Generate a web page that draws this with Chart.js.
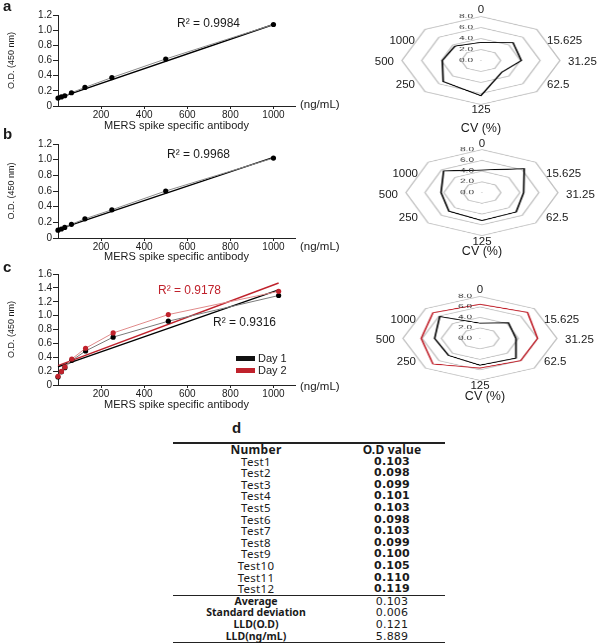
<!DOCTYPE html>
<html>
<head>
<meta charset="utf-8">
<script src="https://cdn.jsdelivr.net/npm/chart.js@4.4.1/dist/chart.umd.min.js"></script>
<style>
body { margin: 0; background: #fff; }
#fig { position: relative; width: 600px; height: 643px; overflow: hidden; font-family: "Liberation Sans", Arial, sans-serif; color: #1a1a1a; }
.abs { position: absolute; white-space: nowrap; height: 16px; line-height: 16px; width: 120px; color: #1a1a1a; }
.letter { font-weight: bold; font-size: 15px; }
.r2 { font-size: 12px; }
.unit { font-size: 11.5px; }
.cv { font-size: 12.5px; }
.plab { font-size: 11.5px; }
.leg { font-size: 11px; }
.sw { position: absolute; width: 19px; height: 5px; }
#tbl { position: absolute; left: 173px; top: 442px; width: 272px; border-collapse: collapse; font-family: "Noto Sans", sans-serif; color: #1a1a1a; }
#tbl td { padding: 0; height: 11.6px; line-height: 11.6px; text-align: center; font-size: 11.5px; letter-spacing: 0.3px; }
#tbl td.v { font-family: "DejaVu Sans", sans-serif; font-size: 11px; letter-spacing: 0.2px; }
#tbl tr.head td { font-size: 12px; }
#tbl tr.sum td.n { font-size: 10.5px; letter-spacing: 0; }
#tbl tr.top td { border-top: 2px solid #222; }
#tbl tr.mid td { border-top: 1.5px solid #222; }
#tbl tr.bot td { border-bottom: 2px solid #222; }
</style>
</head>
<body>
<div id="fig"></div>
<script>
// ---- data ----
var concAB = [0, 15.625, 31.25, 62.5, 125, 250, 500, 1000];
var odA = [0.105, 0.12, 0.135, 0.175, 0.245, 0.375, 0.62, 1.075];
var odB = [0.10, 0.115, 0.135, 0.175, 0.245, 0.36, 0.60, 1.02];
var trendX = [0, 1000];
var trendA = [0.105, 1.075];
var trendB = [0.11, 1.03];

var concC = [0, 16, 32, 64, 128, 256, 512, 1024];
var odDay1 = [0.115, 0.19, 0.25, 0.355, 0.49, 0.69, 0.92, 1.29];
var odDay2 = [0.125, 0.195, 0.26, 0.375, 0.53, 0.75, 1.015, 1.35];
var trendXC = [0, 1024];
var trendDay1 = [0.26, 1.37];
var trendDay2 = [0.28, 1.47];

var xTicks = [200, 400, 600, 800, 1000];
var ringTicks = [0, 2, 4, 6, 8];

var cvLabels = ['0', '15.625', '31.25', '62.5', '125', '250', '500', '1000'];
var cvA = [3.3, 4.6, 4.1, 3.0, 6.4, 5.4, 3.9, 3.7];
var cvB = [4.2, 6.3, 4.4, 5.1, 5.2, 4.9, 4.3, 5.7];
var cvDay1 = [2.9, 4.2, 3.75, 5.3, 5.1, 4.6, 4.7, 5.9];
var cvDay2 = [6.5, 7.0, 6.0, 6.0, 5.65, 6.9, 6.1, 6.9];

var testNames = ['Test1', 'Test2', 'Test3', 'Test4', 'Test5', 'Test6', 'Test7', 'Test8', 'Test9', 'Test10', 'Test11', 'Test12'];
var testOD = ['0.103', '0.098', '0.099', '0.101', '0.103', '0.098', '0.103', '0.099', '0.100', '0.105', '0.110', '0.119'];
var sumNames = ['Average', 'Standard deviation', 'LLD(O.D)', 'LLD(ng/mL)'];
var sumValues = ['0.103', '0.006', '0.121', '5.889'];

var RED = '#c0222c';

Chart.defaults.font.family = '"Liberation Sans", Arial, sans-serif';
Chart.defaults.color = '#1a1a1a';
Chart.defaults.animation = false;

var fig = document.getElementById('fig');

// text box of fixed width, anchored without fractional transforms
function addText(txt, x, y, cls, align) {
    var d = document.createElement('div');
    d.className = 'abs ' + (cls || '');
    d.textContent = txt;
    var left = x;
    if (align === 'right') { left = x - 120; d.style.textAlign = 'right'; }
    else if (align === 'center') { left = x - 60; d.style.textAlign = 'center'; }
    d.style.left = Math.round(left) + 'px';
    d.style.top = Math.round(y - 8) + 'px';
    fig.appendChild(d);
    return d;
}

function pts(xs, ys) {
    return xs.map(function (x, i) { return { x: x, y: ys[i] }; });
}

//-----------------
//- line charts   -
//-----------------
function makeLine(box, yMax, datasets) {
    var c = document.createElement('canvas');
    c.width = 300;
    c.height = box.h;
    c.style.position = 'absolute';
    c.style.left = '0px';
    c.style.top = box.top + 'px';
    fig.appendChild(c);

    new Chart(c.getContext('2d'), {
        type: 'scatter',
        data: { datasets: datasets },
        options: {
            responsive: false,
            events: [],
            layout: { padding: { top: box.padTop, right: 5, left: 0, bottom: 0 } },
            plugins: { legend: { display: false }, tooltip: { enabled: false } },
            scales: {
                x: {
                    type: 'linear', min: 0, max: 1100,
                    afterBuildTicks: function (s) {
                        s.ticks = xTicks.map(function (v) { return { value: v }; });
                    },
                    ticks: {
                        padding: 0, maxRotation: 0, autoSkip: false, font: { size: 10 },
                        callback: function (v) { return String(v); }
                    },
                    grid: { drawOnChartArea: false, tickLength: 3, color: '#222' },
                    border: { color: '#222', width: 1 },
                    title: { display: true, text: 'MERS spike specific antibody', font: { size: 11 }, padding: { top: 0, bottom: 2 } },
                    afterFit: function (s) { s.height = box.xh; }
                },
                y: {
                    min: 0, max: yMax,
                    ticks: {
                        stepSize: 0.2, padding: 1, autoSkip: false, font: { size: 10 },
                        callback: function (v) { return v === 0 ? '0' : v.toFixed(1); }
                    },
                    grid: { drawOnChartArea: false, tickLength: 5, color: '#222' },
                    border: { color: '#222', width: 1 },
                    title: { display: true, text: 'O.D. (450 nm)', font: { size: 9 }, padding: { top: 6, bottom: 0 } },
                    afterFit: function (s) { s.width = 58; }
                }
            }
        }
    });
}

function dotSet(xs, ys, line, dot) {
    return {
        data: pts(xs, ys), showLine: true, borderColor: line, borderWidth: 1, clip: false,
        pointRadius: 2.6, pointBackgroundColor: dot, pointBorderWidth: 0
    };
}
function trendSet(xs, ys, color) {
    return { data: pts(xs, ys), showLine: true, borderColor: color, borderWidth: 1.4, pointRadius: 0, clip: false };
}

makeLine({ top: 0, h: 135, padTop: 15, xh: 29 }, 1.2, [
    dotSet(concAB, odA, '#8c8c8c', '#000'),
    trendSet(trendX, trendA, '#000')
]);
makeLine({ top: 130, h: 136, padTop: 14, xh: 28 }, 1.2, [
    dotSet(concAB, odB, '#8c8c8c', '#000'),
    trendSet(trendX, trendB, '#000')
]);
makeLine({ top: 262, h: 152, padTop: 12, xh: 29 }, 1.6, [
    dotSet(concC, odDay2, '#e08a8a', RED),
    dotSet(concC, odDay1, '#7a7a7a', '#000'),
    trendSet(trendXC, trendDay1, '#000'),
    trendSet(trendXC, trendDay2, RED)
]);

//-----------------
//- radar charts  -
//-----------------
// ring values sit left of the vertical axis, as in Excel
var ringLabels = {
    id: 'ringLabels',
    afterDatasetsDraw: function (chart) {
        var r = chart.scales.r, ctx = chart.ctx;
        ctx.save();
        ctx.font = '10px "Liberation Sans", Arial, sans-serif';
        ctx.fillStyle = '#333';
        ctx.textAlign = 'center';
        ctx.textBaseline = 'middle';
        r.ticks.forEach(function (t) {
            ctx.fillText(t.value.toFixed(1), r.xCenter - 15, r.yCenter - r.getDistanceFromCenterForValue(t.value));
        });
        ctx.restore();
    }
};

function makeRadar(box, sets) {
    var S = 2 * box.rx + 2 + 20;
    var wrap = document.createElement('div');
    wrap.style.position = 'absolute';
    wrap.style.transformOrigin = '0 0';
    var c = document.createElement('canvas');
    c.width = S;
    c.height = S;
    wrap.appendChild(c);
    fig.appendChild(wrap);

    var chart = new Chart(c.getContext('2d'), {
        type: 'radar',
        data: {
            labels: cvLabels,
            datasets: sets.map(function (s) {
                return { data: s.data, borderColor: s.color, borderWidth: 1.7, pointRadius: 0, fill: false, backgroundColor: 'rgba(0,0,0,0)', borderJoinStyle: 'miter' };
            })
        },
        options: {
            responsive: false,
            events: [],
            layout: { padding: 10 },
            plugins: { legend: { display: false }, tooltip: { enabled: false } },
            scales: {
                r: {
                    min: -0.001, max: 8,
                    afterBuildTicks: function (s) {
                        s.ticks = ringTicks.map(function (v) { return { value: v }; });
                    },
                    ticks: { display: false },
                    angleLines: { display: false },
                    grid: { color: '#c4c4c4', lineWidth: 1.6 },
                    pointLabels: { display: false }
                }
            }
        },
        plugins: [ringLabels]
    });

    var r = chart.scales.r;
    var k = box.ry / r.drawingArea;
    var sx = box.rx / r.drawingArea;
    wrap.style.left = (box.cx - r.xCenter * sx) + 'px';
    wrap.style.top = (box.cy - r.yCenter * k) + 'px';
    wrap.style.transform = 'scale(' + sx + ',' + k + ')';

    // category labels round the web
    cvLabels.forEach(function (lab, i) {
        var a = -Math.PI / 2 + i * Math.PI / 4;
        var cs = Math.cos(a), sn = Math.sin(a);
        var x, y, al;
        if (Math.abs(cs) < 0.1) {
            x = box.cx; y = box.cy + sn * (box.ry + (sn < 0 ? 7 : 5)); al = 'center';
        } else if (Math.abs(sn) < 0.1) {
            x = box.cx + cs * (box.rx + 8); y = box.cy + 1; al = cs > 0 ? 'left' : 'right';
        } else {
            x = box.cx + cs * box.rx + (cs > 0 ? 10 : -10);
            y = box.cy + sn * box.ry * 0.72 + 2;
            al = cs > 0 ? 'left' : 'right';
        }
        addText(lab, x, y, 'plab', al);
    });
}

makeRadar({ cx: 481, cy: 60, rx: 79, ry: 44 }, [{ data: cvA, color: '#000' }]);
makeRadar({ cx: 482, cy: 193, rx: 76, ry: 43 }, [{ data: cvB, color: '#000' }]);
makeRadar({ cx: 480, cy: 338, rx: 77, ry: 42 }, [{ data: cvDay1, color: '#000' }, { data: cvDay2, color: RED }]);

//-----------------
//- labels        -
//-----------------
addText('a', 3, 6, 'letter');
addText('b', 3, 134, 'letter');
addText('c', 3, 267, 'letter');
addText('d', 232, 428, 'letter');

addText('R\u00b2 = 0.9984', 177, 23, 'r2');
addText('R\u00b2 = 0.9968', 167, 154, 'r2');
addText('R\u00b2 = 0.9178', 158, 290, 'r2').style.color = RED;
addText('R\u00b2 = 0.9316', 213, 322, 'r2');

addText('(ng/mL)', 300, 104, 'unit');
addText('(ng/mL)', 300, 246, 'unit');
addText('(ng/mL)', 300, 386, 'unit');

addText('CV (%)', 481, 128, 'cv', 'center');
addText('CV (%)', 482, 251, 'cv', 'center');
addText('CV (%)', 485, 396, 'cv', 'center');

// Day legend of panel c
[['Day 1', '#111', 358], ['Day 2', RED, 370]].forEach(function (it) {
    var sw = document.createElement('div');
    sw.className = 'sw';
    sw.style.left = '236px';
    sw.style.top = Math.round(it[2] - 2.5) + 'px';
    sw.style.background = it[1];
    fig.appendChild(sw);
    addText(it[0], 258, it[2], 'leg');
});

//-----------------
//- table d       -
//-----------------
var tbl = document.createElement('table');
tbl.id = 'tbl';
function row(a, b, cls, boldA, boldB) {
    var tr = document.createElement('tr');
    if (cls) tr.className = cls;
    var t1 = document.createElement('td');
    t1.textContent = a;
    t1.className = 'n';
    t1.style.fontWeight = boldA ? 'bold' : 'normal';
    t1.style.width = '166px';
    var t2 = document.createElement('td');
    t2.textContent = b;
    t2.className = 'v';
    t2.style.fontWeight = boldB ? 'bold' : 'normal';
    tr.appendChild(t1);
    tr.appendChild(t2);
    tbl.appendChild(tr);
}
row('Number', 'O.D value', 'top head', true, true);
tbl.lastChild.lastChild.style.fontFamily = '"Noto Sans", sans-serif';
testNames.forEach(function (n, i) { row(n, testOD[i], '', false, true); });
sumNames.forEach(function (n, i) {
    row(n, sumValues[i], 'sum ' + (i === 0 ? 'mid' : (i === sumNames.length - 1 ? 'bot' : '')), true, false);
});
fig.appendChild(tbl);
</script>
</body>
</html>
